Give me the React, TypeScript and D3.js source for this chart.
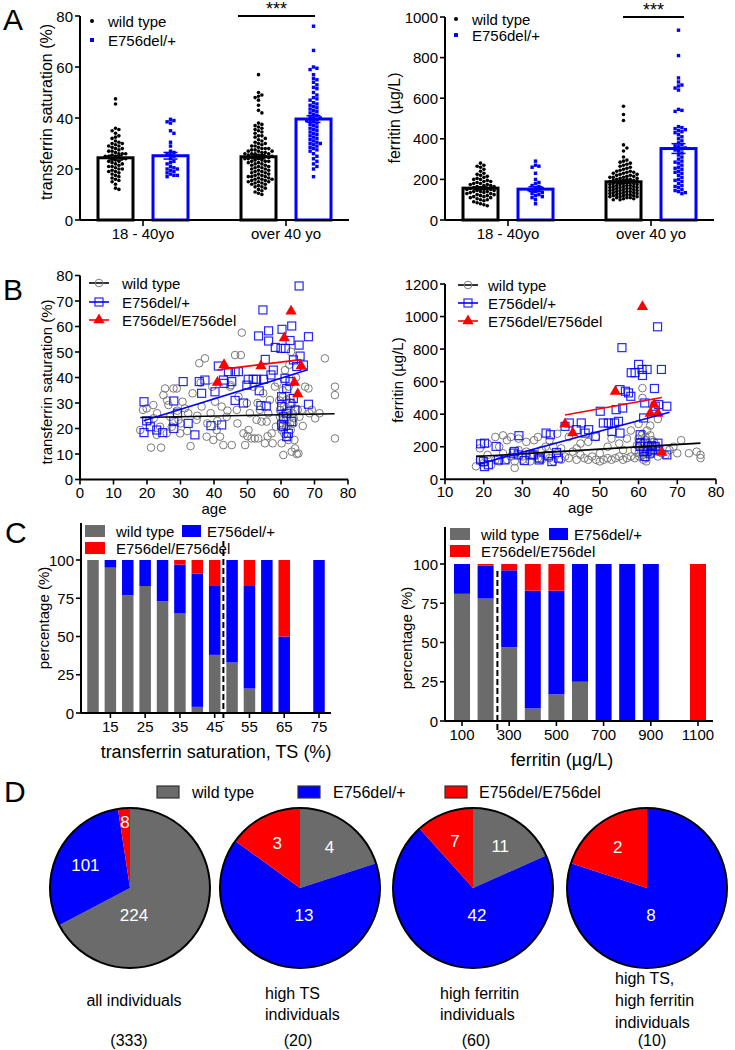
import React from 'react';
import * as d3 from 'd3';

const FONT = '"Liberation Sans", Arial, Helvetica, sans-serif';
const GRAY = '#6b6b6b';
const BLUE = '#0000ff';
const RED = '#ff0000';
const CIRCLE_GRAY = '#7a7a7a';

const GENOTYPES = ['wild type', 'E756del/+', 'E756del/E756del'];
const AGE_GROUPS = ['18 - 40yo', 'over 40 yo'];

// ---------- Panel A : transferrin saturation (%) ----------
const tsWtYoung = [47.5, 45.5, 36, 35.5, 35, 34, 33, 32.5, 32, 31, 30.5, 30, 30, 29.5, 29, 29, 28.5, 28, 28, 27.5, 27, 27, 26.5, 26, 26, 26, 25.5, 25, 25, 25, 24.5, 24, 24, 24, 23.5, 23, 23, 22.5, 22, 22, 21.5, 21, 21, 20.5, 20, 20, 19.5, 19, 19, 18.5, 18, 17.5, 17, 16.5, 16, 15.5, 15, 14, 12.5, 12];
const tsHetYoung = [39.5, 39, 38.5, 38, 35, 34, 30.5, 29, 27, 26.5, 26, 25.5, 25, 24, 23, 22.5, 22, 21, 20.5, 20, 20, 19.5, 19, 18.5, 18, 17.5, 17.5, 17];
const tsWtOld = [57, 50, 49, 48.5, 48, 47, 45, 43, 42, 38, 37.5, 37, 36.5, 36, 35.5, 35, 34.5, 34, 33, 33, 32.5, 32, 31.5, 31, 30.5, 30, 30, 29.5, 29, 29, 28.5, 28, 28, 28, 27.5, 27.5, 27, 27, 27, 26.5, 26.5, 26, 26, 26, 26, 25.5, 25.5, 25, 25, 25, 25, 24.5, 24.5, 24, 24, 24, 23.5, 23.5, 23, 23, 23, 22.5, 22.5, 22, 22, 21.5, 21.5, 21, 21, 20.5, 20.5, 20, 20, 19.5, 19.5, 19, 19, 18.5, 18.5, 18, 18, 17.5, 17.5, 17, 17, 17, 16.5, 16.5, 16, 16, 16, 15.5, 15.5, 15, 15, 15, 14.5, 14.5, 14, 14, 13.5, 13, 13, 12.5, 12, 11.5, 11, 10.5, 10];
const tsHetOld = [76, 66.5, 60, 59.5, 59, 57, 55.5, 55, 54, 53, 52, 51.5, 50, 49, 48, 47.5, 47, 46, 45.5, 45, 44.5, 44, 43.5, 43, 42.5, 42, 41.5, 41, 40.5, 40, 40, 39.5, 39, 39, 38.5, 38, 37.5, 37, 36.5, 36, 35.5, 35, 34.5, 34, 33.5, 33, 32.5, 32, 31.5, 31, 30.5, 30, 30, 29.5, 29, 28.5, 28, 27.5, 27, 26, 25, 24, 23, 22, 21, 20, 17];
const tsBarMeans = [24.4, 25.2, 24.8, 39.6];
const tsBarSems = [0.9, 1.3, 0.8, 1.3];

// ---------- Panel A : ferritin (µg/L) ----------
const ferWtYoung = [280, 270, 265, 260, 250, 240, 230, 225, 220, 215, 210, 205, 200, 200, 195, 190, 190, 185, 180, 180, 175, 175, 170, 170, 165, 165, 160, 160, 155, 155, 150, 150, 150, 145, 145, 140, 140, 140, 135, 135, 130, 130, 125, 125, 120, 120, 115, 115, 110, 110, 105, 100, 100, 95, 90, 85, 80, 75, 70];
const ferHetYoung = [290, 270, 265, 260, 230, 200, 185, 180, 170, 165, 160, 155, 150, 150, 145, 140, 135, 130, 125, 120, 115, 110, 100, 80];
const ferWtOld = [560, 520, 490, 370, 355, 340, 310, 295, 290, 285, 280, 275, 270, 265, 260, 255, 250, 245, 240, 240, 235, 235, 230, 230, 225, 225, 220, 220, 215, 215, 210, 210, 210, 205, 205, 200, 200, 200, 195, 195, 195, 190, 190, 190, 185, 185, 185, 180, 180, 180, 175, 175, 175, 170, 170, 170, 165, 165, 165, 160, 160, 160, 155, 155, 155, 150, 150, 150, 145, 145, 145, 140, 140, 140, 135, 135, 135, 130, 130, 130, 125, 125, 125, 120, 120, 120, 115, 115, 115, 110, 110, 110, 105, 105, 100, 100];
const ferHetOld = [935, 810, 700, 680, 665, 660, 650, 640, 545, 540, 535, 460, 455, 450, 445, 440, 435, 430, 420, 410, 400, 390, 380, 370, 365, 360, 355, 350, 345, 340, 330, 320, 310, 300, 290, 285, 280, 270, 260, 255, 250, 240, 235, 230, 220, 210, 200, 195, 190, 180, 170, 165, 160, 150, 145, 140, 135, 130];
const ferBarMeans = [157, 152, 188, 352];
const ferBarSems = [6, 12, 7, 24];

// ---------- Panel B : age vs TS ----------
const bTsWt: [number, number][] = [[18, 19.4], [18.8, 27.3], [19.9, 27.9], [21.2, 12.5], [21.9, 29.2], [22.9, 17.5], [23.9, 20.7], [24.2, 12.5], [24.9, 33.1], [25.4, 35.7], [25.9, 18.1], [26.4, 29.2], [26.9, 24.6], [27.4, 20.7], [27.9, 35.7], [28.9, 35.7], [29.4, 23.4], [29.9, 18.1], [30.6, 30.5], [31.3, 27.9], [32.3, 26], [33, 13.1], [33.6, 33.8], [34.8, 23.4], [35.6, 45.6], [36.3, 28.6], [37.3, 47.5], [37.8, 16.8], [39, 26], [39.5, 36.4], [39.8, 15.5], [40.3, 30.5], [40.8, 19.4], [41.8, 16.8], [42.3, 28.6], [42.8, 13.5], [43.8, 24.6], [44.8, 36.4], [45.3, 13.5], [46.3, 48.8], [46.8, 27.3], [47.3, 32.5], [48, 48.8], [48.3, 57.6], [48.8, 18.1], [49.3, 13.5], [49.8, 29.9], [50.3, 19.4], [50.7, 26], [51.2, 16.1], [51.7, 36.4], [52.2, 16.1], [52.7, 23.4], [53.2, 16.1], [53.7, 27.3], [54.2, 22.7], [54.7, 33.8], [55.2, 14.2], [55.7, 22.7], [56.2, 26], [56.7, 31.2], [57.2, 18.1], [57.5, 14.2], [58.2, 36.4], [58.5, 20.7], [59.7, 27.3], [59.7, 24.6], [59.9, 22], [60, 29.9], [60.2, 19.4], [60.2, 14.2], [60.5, 32.5], [60.7, 23.4], [60.7, 9.6], [60.9, 28.6], [61.2, 26], [61.2, 42.9], [61.5, 20.7], [61.7, 16.8], [61.7, 31.2], [61.9, 24.6], [62.2, 15.5], [62.3, 36.4], [62.5, 27.3], [62.7, 22], [62.9, 19.4], [63, 50.1], [63.2, 10.9], [63.3, 29.9], [63.5, 26], [63.7, 22], [64, 15.5], [64.2, 12.2], [64.7, 10], [65, 27.3], [65.2, 10.2], [65.5, 24.6], [66.2, 27.3], [67.2, 36.4], [68.2, 35.7], [69.2, 27.3], [70.2, 24], [71.5, 26], [73.1, 47.5], [76.1, 36.4], [76.1, 33.1], [76.1, 16.1], [20.5, 23], [23, 26], [26, 31], [30, 22], [32, 19], [35, 25], [38, 22], [41, 23], [44, 27], [47, 22], [50, 17], [53, 30], [56, 17], [59, 38], [60.5, 35], [61.5, 24], [62, 21], [60, 26], [61, 18], [62.8, 32], [63.8, 24], [59.5, 31], [64.5, 40], [62.5, 45], [66.5, 21], [68.5, 26], [45, 37], [36, 38], [29, 27], [22, 24]];
const bTsHet: [number, number][] = [[19.1, 30.5], [19.1, 18.4], [19.9, 23], [21, 20.7], [22.9, 19.4], [24.7, 18.4], [28, 30.8], [28, 22.7], [28, 20], [30.8, 38.4], [29.1, 26], [32.3, 22], [34.3, 17.5], [35.6, 38.4], [36.3, 33.8], [37.3, 39], [39.1, 21.1], [40.3, 34.4], [41.3, 44.5], [42.3, 21.4], [42.8, 39], [43, 37.7], [44.3, 42.3], [46.3, 42.3], [47.3, 42.3], [45.3, 38.4], [46.3, 31], [48.8, 30], [49.8, 37], [50.2, 39.3], [51.7, 39.3], [52.7, 39.3], [53.5, 34.8], [53.3, 56.3], [54.6, 66.5], [54.8, 39.3], [55.3, 47.1], [55.6, 28.8], [56.3, 58.3], [56.3, 54.3], [57.7, 42.9], [58.3, 51.8], [60, 51.4], [60.3, 58.9], [61.3, 51.4], [62.7, 54.5], [63.2, 60.2], [63.7, 46.9], [64.7, 44.3], [65.4, 75.9], [65.4, 52.7], [65.7, 48.4], [66.7, 44.9], [68.2, 56], [68.2, 29.5], [60.2, 32.5], [60.2, 28.6], [60.7, 24.6], [60.2, 21.4], [61.7, 35.7], [61.7, 26], [62.2, 18.1], [61.7, 16.8], [62.7, 29.9], [61.2, 39.7], [62.7, 38.4], [63.2, 22.7], [63.7, 31.8], [64.2, 27.3], [60.7, 20.7], [54, 29], [57, 41]];
const bTsHom: [number, number][] = [[41, 38], [43, 45], [54, 44.5], [61, 55.5], [63, 66], [64, 38], [65, 33.5], [66, 44.5]];
const bTsFitWt: [number, number][] = [[18, 24.3], [76, 25.8]];
const bTsFitHet: [number, number][] = [[19, 23], [68, 43]];
const bTsFitHom: [number, number][] = [[41, 43], [66, 47]];

// ---------- Panel B : age vs ferritin ----------
const bFerWt: [number, number][] = [[18, 80], [19, 120], [19, 190], [20, 100], [21, 150], [22, 90], [23, 260], [23, 120], [24, 110], [25, 160], [25, 270], [26, 120], [26, 240], [27, 140], [27, 260], [28, 70], [28, 110], [29, 180], [29, 250], [30, 120], [30, 140], [31, 170], [31, 230], [32, 110], [33, 150], [33, 240], [34, 130], [34, 260], [35, 180], [35, 120], [36, 150], [37, 130], [37, 240], [38, 200], [38, 110], [39, 160], [39, 280], [40, 120], [40, 190], [41, 140], [42, 130], [42, 260], [43, 170], [44, 120], [45, 220], [45, 150], [46, 130], [47, 230], [47, 120], [48, 140], [49, 120], [49, 260], [50, 110], [50, 160], [51, 120], [52, 130], [52, 200], [53, 120], [53, 250], [54, 130], [55, 140], [55, 220], [56, 120], [57, 130], [57, 250], [58, 140], [58, 300], [59, 180], [59, 130], [60, 200], [60, 250], [60, 160], [60, 340], [61, 220], [61, 150], [61, 280], [61, 560], [61, 500], [62, 180], [62, 240], [62, 130], [62, 110], [63, 200], [63, 330], [63, 150], [63, 270], [64, 170], [64, 230], [64, 430], [65, 190], [65, 140], [65, 370], [66, 160], [67, 150], [68, 180], [70, 160], [71, 240], [73, 160], [76, 150], [76, 130], [75, 170], [69, 200], [56, 180], [44, 190], [36, 200], [24, 200], [21, 220], [60.5, 230], [61.5, 190], [62.5, 210], [60.2, 140], [61.8, 260], [62.8, 170], [59.6, 210], [63.5, 240], [64.5, 200], [61.2, 120], [62.2, 300], [60.8, 270]];
const bFerHet: [number, number][] = [[19.2, 218], [19.2, 119], [20.2, 222], [20.2, 78], [23.2, 202], [23.8, 119], [27.9, 171], [29.1, 268], [28.9, 150], [30.5, 115], [32, 150], [34.3, 119], [36.1, 284], [37.2, 274], [37.6, 109], [39.3, 130], [41, 325], [42.1, 346], [43.9, 305], [45.2, 346], [46.2, 284], [47.1, 305], [48.8, 264], [50.1, 418], [50.9, 346], [52.2, 346], [53.1, 294], [53.8, 346], [54.2, 428], [54.8, 356], [55.2, 284], [55.2, 551], [55.7, 809], [55.9, 438], [56.6, 541], [57.4, 531], [58, 510], [58.1, 655], [59.1, 655], [60, 706], [60.4, 222], [60.9, 675], [61, 638], [61.3, 377], [61.6, 469], [62.2, 675], [62.2, 171], [63.4, 206], [64.1, 558], [64.3, 449], [64.9, 937], [65.2, 459], [65.9, 675], [67.3, 449], [67.3, 150], [60.4, 274], [60.4, 202], [61.3, 171], [61.7, 222], [62.4, 202], [63, 161], [63.6, 181], [64.3, 202], [65, 222], [65.2, 181], [61.6, 140], [19.9, 109], [21.2, 89], [25.5, 119], [27.7, 161], [32.8, 150], [34.4, 130], [36.7, 144], [38.8, 165]];
const bFerHom: [number, number][] = [[41, 340], [43, 285], [54, 540], [61, 1060], [63, 405], [64, 460], [65, 405], [66, 165]];
const bFerFitWt: [number, number][] = [[18, 140], [76, 222]];
const bFerFitHet: [number, number][] = [[19, 95], [68, 412]];
const bFerFitHom: [number, number][] = [[41, 395], [66, 503]];

// ---------- Panel C : genotype % by bin ----------
const tsBins = [10, 15, 20, 25, 30, 35, 40, 45, 50, 55, 60, 65, 70, 75];
const tsPctWt = [100, 95, 77, 83, 73, 65, 4, 38, 33, 16, 0, 0, 0, 0];
const tsPctHet = [0, 5, 23, 17, 27, 32, 87, 45, 67, 67, 100, 50, 0, 100];
const tsPctHom = [0, 0, 0, 0, 0, 3, 9, 17, 0, 17, 0, 50, 0, 0];
const tsBinTicks = [15, 25, 35, 45, 55, 65, 75];
const tsCutoff = 47.5;

const ferBins = [100, 200, 300, 400, 500, 600, 700, 800, 900, 1000, 1100];
const ferPctWt = [81, 78, 47, 8, 17, 25, 0, 0, 0, 0, 0];
const ferPctHet = [19, 21, 49, 75, 66, 75, 100, 100, 100, 0, 0];
const ferPctHom = [0, 1, 4, 17, 17, 0, 0, 0, 0, 0, 100];
const ferBinTicks = [100, 300, 500, 700, 900, 1100];
const ferCutoff = 250;

// ---------- Panel D : pies ----------
const pieWt = [224, 4, 11, 0];
const pieHet = [101, 13, 42, 8];
const pieHom = [8, 3, 7, 2];
const pieCaptions = [['all individuals'], ['high TS', 'individuals'], ['high ferritin', 'individuals'], ['high TS,', 'high ferritin', 'individuals']];
const pieTotals = ['(333)', '(20)', '(60)', '(10)'];

// ---------- helpers ----------
function swarm(values: number[], y: (v: number) => number, d: number, maxHalf: number) {
  const pts = values.map((v) => ({ v, py: y(v), px: 0 }));
  const sorted = [...pts].sort((a, b) => a.py - b.py);
  const placed: { px: number; py: number }[] = [];
  const cands = [0];
  for (let k = 1; k * d <= maxHalf; k++) cands.push(k * d, -k * d);
  for (const p of sorted) {
    let best = 0;
    let found = false;
    const near = placed.filter((q) => Math.abs(q.py - p.py) < d);
    for (const c of cands) {
      if (near.every((q) => (q.px - c) ** 2 + (q.py - p.py) ** 2 >= d * d * 0.95)) {
        best = c;
        found = true;
        break;
      }
    }
    if (!found) {
      let bd = -1;
      for (const c of cands) {
        const m = Math.min(...near.map((q) => (q.px - c) ** 2 + (q.py - p.py) ** 2));
        if (m > bd) { bd = m; best = c; }
      }
    }
    p.px = best;
    placed.push(p);
  }
  return pts;
}

const txt = (size: number) => ({ fontFamily: FONT, fontSize: size, fill: '#000' });

function YAxis({ scale, x, ticks, fmt, size = 15, top }: any) {
  const r = scale.range();
  return (
    <g>
      <line x1={x} x2={x} y1={top ?? Math.min(...r)} y2={Math.max(...r)} stroke="#000" strokeWidth={2} />
      {ticks.map((t: number) => (
        <g key={t}>
          <line x1={x - 5} x2={x} y1={scale(t)} y2={scale(t)} stroke="#000" strokeWidth={1.6} />
          <text x={x - 7} y={scale(t)} textAnchor="end" dominantBaseline="central" style={txt(size)}>{fmt ? fmt(t) : t}</text>
        </g>
      ))}
    </g>
  );
}

function PanelA({ vals, means, sems, yMax, yTicks, left, right, top, bottom, label, labelX, labelY, legendX, legendY, sig }: any) {
  const y = d3.scaleLinear().domain([0, yMax]).range([bottom, top]);
  const gx = d3.scalePoint().domain(AGE_GROUPS).range([left + 63, left + 206]);
  const inner = d3.scaleBand().domain(GENOTYPES.slice(0, 2)).range([-55, 55]);
  const bw = 35;
  const cols = ['#000', BLUE];
  const items: any[] = [];
  AGE_GROUPS.forEach((g, gi) => {
    GENOTYPES.slice(0, 2).forEach((gt, ti) => {
      const idx = gi * 2 + ti;
      const cx = (gx(g) as number) + (inner(gt) as number) + inner.bandwidth() / 2;
      items.push({ idx, cx, col: cols[ti], vals: vals[idx], mean: means[idx], sem: sems[idx], het: ti === 1 });
    });
  });
  return (
    <g>
      {items.map((it) => (
        <g key={it.idx}>
          <rect x={it.cx - bw / 2} y={y(it.mean)} width={bw} height={bottom - y(it.mean)} fill="none" stroke={it.col} strokeWidth={3} />
          {swarm(it.vals, y, 3.4, 15).map((p, i) =>
            it.het ? (
              <rect key={i} x={it.cx + p.px - 1.7} y={p.py - 1.7} width={3.4} height={3.4} fill={BLUE} />
            ) : (
              <circle key={i} cx={it.cx + p.px} cy={p.py} r={1.8} fill="#000" />
            )
          )}
          <line x1={it.cx} x2={it.cx} y1={y(it.mean - it.sem)} y2={y(it.mean + it.sem)} stroke={it.col} strokeWidth={1.5} />
          <line x1={it.cx - 7} x2={it.cx + 7} y1={y(it.mean - it.sem)} y2={y(it.mean - it.sem)} stroke={it.col} strokeWidth={1.5} />
          <line x1={it.cx - 7} x2={it.cx + 7} y1={y(it.mean + it.sem)} y2={y(it.mean + it.sem)} stroke={it.col} strokeWidth={1.5} />
        </g>
      ))}
      <YAxis scale={y} x={left} ticks={yTicks} />
      <line x1={left} x2={right} y1={bottom} y2={bottom} stroke="#000" strokeWidth={2} />
      {AGE_GROUPS.map((g) => (
        <g key={g}>
          <line x1={gx(g)} x2={gx(g)} y1={bottom} y2={bottom + 6} stroke="#000" strokeWidth={1.6} />
          <text x={gx(g)} y={bottom + 19} textAnchor="middle" style={txt(15)}>{g}</text>
        </g>
      ))}
      <text transform={`translate(${labelX},${labelY}) rotate(-90)`} textAnchor="middle" dominantBaseline="central" style={txt(16)}>{label}</text>
      <circle cx={legendX} cy={legendY[0]} r={2} fill="#000" />
      <text x={legendX + 16} y={legendY[0]} dominantBaseline="central" style={txt(15)}>wild type</text>
      <rect x={legendX - 2} y={legendY[1] - 2} width={4} height={4} fill={BLUE} />
      <text x={legendX + 16} y={legendY[1]} dominantBaseline="central" style={txt(15)}>E756del/+</text>
      <line x1={sig[0]} x2={sig[1]} y1={sig[2]} y2={sig[2]} stroke="#000" strokeWidth={2} />
      <text x={(sig[0] + sig[1]) / 2} y={sig[2] - 1} textAnchor="middle" style={txt(18)}>***</text>
    </g>
  );
}

function Marker({ kind, x, y }: any) {
  if (kind === 0) return <circle cx={x} cy={y} r={3.8} fill="none" stroke={CIRCLE_GRAY} strokeWidth={1} />;
  if (kind === 1) return <rect x={x - 4} y={y - 4} width={8} height={8} fill="none" stroke={BLUE} strokeWidth={1.2} opacity={0.85} />;
  const p = d3.symbol().type(d3.symbolTriangle).size(55)();
  return <path d={p as string} transform={`translate(${x},${y})`} fill={RED} />;
}

function PanelB({ xDom, xTicks, yDom, yTicks, left, right, top, bottom, wt, het, hom, fits, label, labelX, labelY, legend }: any) {
  const x = d3.scaleLinear().domain(xDom).range([left, right]);
  const y = d3.scaleLinear().domain(yDom).range([bottom, top]);
  const line = d3.line<[number, number]>().x((d) => x(d[0])).y((d) => y(d[1]));
  const cols = ['#000', BLUE, RED];
  return (
    <g>
      {wt.map((d: any, i: number) => <Marker key={'w' + i} kind={0} x={x(d[0])} y={y(d[1])} />)}
      {het.map((d: any, i: number) => <Marker key={'h' + i} kind={1} x={x(d[0])} y={y(d[1])} />)}
      {hom.map((d: any, i: number) => <Marker key={'o' + i} kind={2} x={x(d[0])} y={y(d[1])} />)}
      {fits.map((f: any, i: number) => <path key={i} d={line(f) as string} stroke={cols[i]} strokeWidth={1.6} fill="none" />)}
      <YAxis scale={y} x={left} ticks={yTicks} size={15} />
      <line x1={left} x2={right} y1={bottom} y2={bottom} stroke="#000" strokeWidth={2} />
      {xTicks.map((t: number) => (
        <g key={t}>
          <line x1={x(t)} x2={x(t)} y1={bottom} y2={bottom + 5} stroke="#000" strokeWidth={1.6} />
          <text x={x(t)} y={bottom + 18} textAnchor="middle" style={txt(15)}>{t}</text>
        </g>
      ))}
      <text x={(left + right) / 2} y={bottom + 34} textAnchor="middle" style={txt(15)}>age</text>
      <text transform={`translate(${labelX},${labelY}) rotate(-90)`} textAnchor="middle" dominantBaseline="central" style={txt(15)}>{label}</text>
      {GENOTYPES.map((g, i) => (
        <g key={g}>
          <line x1={legend.x} x2={legend.x + 20} y1={legend.y[i]} y2={legend.y[i]} stroke={cols[i]} strokeWidth={1.6} />
          <Marker kind={i} x={legend.x + 10} y={legend.y[i]} />
          <text x={legend.x + legend.tx} y={legend.y[i]} dominantBaseline="central" style={txt(15)}>{i === 0 ? ' wild type' : g}</text>
        </g>
      ))}
    </g>
  );
}

function PanelC({ bins, wtP, hetP, homP, xDom, xRange, axisLeft, axisRight, top, bottom, axisTop, barW, ticks, cutoff, xlabel, xlabelX, labelX, labelY, legend }: any) {
  const x = d3.scaleLinear().domain(xDom).range(xRange);
  const y = d3.scaleLinear().domain([0, 100]).range([bottom, top]);
  const rows = bins.map((b: number, i: number) => ({ bin: b, wt: wtP[i], het: hetP[i], hom: homP[i] }));
  const stack = d3.stack<any>().keys(['wt', 'het', 'hom'])(rows);
  const cols = [GRAY, BLUE, RED];
  return (
    <g>
      {stack.map((s, si) => (
        <g key={si} fill={cols[si]}>
          {s.map((d: any, i: number) => (d[1] - d[0] > 0 ? (
            <rect key={i} x={x(d.data.bin) - barW / 2} y={y(d[1])} width={barW} height={y(d[0]) - y(d[1])} />
          ) : null))}
        </g>
      ))}
      <YAxis scale={y} x={axisLeft} ticks={[0, 25, 50, 75, 100]} top={axisTop} size={15} />
      <line x1={axisLeft} x2={axisRight} y1={bottom} y2={bottom} stroke="#000" strokeWidth={2} />
      {ticks.map((t: number) => (
        <g key={t}>
          <line x1={x(t)} x2={x(t)} y1={bottom} y2={bottom + 5} stroke="#000" strokeWidth={1.6} />
          <text x={x(t)} y={bottom + 19} textAnchor="middle" style={txt(15)}>{t}</text>
        </g>
      ))}
      <line x1={x(cutoff)} x2={x(cutoff)} y1={legend.dashTop} y2={bottom + 9} stroke="#000" strokeWidth={2} strokeDasharray="6,3" />
      <text x={xlabelX} y={bottom + 45} textAnchor="middle" style={txt(18)}>{xlabel}</text>
      <text transform={`translate(${labelX},${labelY}) rotate(-90)`} textAnchor="middle" dominantBaseline="central" style={txt(15)}>percentage (%)</text>
      <rect x={legend.x} y={legend.y} width={20} height={12} fill={GRAY} />
      <text x={legend.x + 31} y={legend.y + 6} dominantBaseline="central" style={txt(15)}>wild type</text>
      <rect x={legend.x2} y={legend.y} width={19} height={12} fill={BLUE} />
      <text x={legend.x2 + 25} y={legend.y + 6} dominantBaseline="central" style={txt(15)}>E756del/+</text>
      <rect x={legend.x} y={legend.y + 17} width={20} height={12} fill={RED} />
      <text x={legend.x + 31} y={legend.y + 23} dominantBaseline="central" style={txt(15)}>E756del/E756del</text>
    </g>
  );
}

function PanelD() {
  const centers = d3.scalePoint().domain(['0', '1', '2', '3']).range([130, 647]);
  const cxs = [130, 300, 473, 647];
  const cy = 888;
  const R = 80;
  const arc = d3.arc<any>().innerRadius(0).outerRadius(R);
  const pie = d3.pie<number>().sort(null).value((d) => d);
  const cols = [GRAY, BLUE, RED];
  return (
    <g>
      {cxs.map((cx, pi) => {
        const counts = [pieWt[pi], pieHet[pi], pieHom[pi]];
        const total = d3.sum(counts);
        const arcs = pie(counts);
        return (
          <g key={pi} transform={`translate(${cx},${cy})`}>
            {arcs.map((a, i) => (a.value > 0 ? <path key={i} d={arc(a) as string} fill={cols[i]} /> : null))}
            {arcs.map((a, i) => {
              if (a.value <= 0) return null;
              const frac = a.value / total;
              let lx: number, ly: number;
              if (frac > 0.5) {
                lx = 4; ly = 27;
              } else {
                const rr = frac < 0.05 ? 66 : 50;
                const m = (a.startAngle + a.endAngle) / 2;
                lx = Math.sin(m) * rr; ly = -Math.cos(m) * rr;
              }
              return <text key={'t' + i} x={lx} y={ly} textAnchor="middle" dominantBaseline="central" style={{ fontFamily: FONT, fontSize: 17, fill: '#fff' }}>{a.value}</text>;
            })}
            <circle r={R} fill="none" stroke="#000" strokeWidth={2} />
          </g>
        );
      })}
      {[[157, GRAY, 'wild type', 192], [298, BLUE, 'E756del/+', 333], [445, RED, 'E756del/E756del', 479]].map(([x, c, t, tx]: any) => (
        <g key={t}>
          <rect x={x} y={786} width={22} height={12} fill={c} stroke="#333" strokeWidth={1.2} />
          <text x={tx} y={792} dominantBaseline="central" style={txt(16)}>{t}</text>
        </g>
      ))}
      <text x={134} y={1006} textAnchor="middle" style={txt(16)}>{pieCaptions[0][0]}</text>
      {[1, 2].map((i) => (
        <g key={i}>
          {pieCaptions[i].map((s, j) => <text key={j} x={[0, 265, 440][i]} y={999 + j * 21} style={txt(16)}>{s}</text>)}
        </g>
      ))}
      {pieCaptions[3].map((s, j) => <text key={j} x={615} y={984 + j * 22} style={txt(16)}>{s}</text>)}
      {pieTotals.map((s, i) => <text key={i} x={[129, 298, 476, 652][i]} y={1046} textAnchor="middle" style={txt(16)}>{s}</text>)}
    </g>
  );
}

export default function App() {
  const letter = { fontFamily: FONT, fontSize: 30, fill: '#000', fontWeight: 300 } as any;
  return (
    <div style={{ position: 'absolute', left: 0, top: 0 }}>
      <svg width={735} height={1050} viewBox="0 0 735 1050" style={{ display: 'block', background: '#fff' }}>
        <rect width={735} height={1050} fill="#fff" />
        <text x={3} y={30} style={letter}>A</text>
        <text x={3} y={300} style={letter}>B</text>
        <text x={5} y={543} style={letter}>C</text>
        <text x={4} y={802} style={letter}>D</text>

        <PanelA vals={[tsWtYoung, tsHetYoung, tsWtOld, tsHetOld]} means={tsBarMeans} sems={tsBarSems} yMax={80} yTicks={[0, 20, 40, 60, 80]}
          left={80} right={349} top={16} bottom={220} label="transferrin saturation (%)" labelX={46} labelY={112}
          legendX={92} legendY={[21, 40]} sig={[238, 315, 16]} />
        <PanelA vals={[ferWtYoung, ferHetYoung, ferWtOld, ferHetOld]} means={ferBarMeans} sems={ferBarSems} yMax={1000} yTicks={[0, 200, 400, 600, 800, 1000]}
          left={445} right={714} top={17} bottom={220} label="ferritin (µg/L)" labelX={394} labelY={118}
          legendX={456} legendY={[19, 35]} sig={[623, 684, 17]} />

        <PanelB xDom={[0, 80]} xTicks={[0, 10, 20, 30, 40, 50, 60, 70, 80]} yDom={[0, 80]} yTicks={[0, 10, 20, 30, 40, 50, 60, 70, 80]}
          left={80} right={348} top={275.5} bottom={479.5} wt={bTsWt} het={bTsHet} hom={bTsHom} fits={[bTsFitWt, bTsFitHet, bTsFitHom]}
          label="transferrin saturation (%)" labelX={46} labelY={382} legend={{ x: 89, tx: 33, y: [283, 302, 320] }} />
        <PanelB xDom={[10, 80]} xTicks={[10, 20, 30, 40, 50, 60, 70, 80]} yDom={[0, 1200]} yTicks={[0, 200, 400, 600, 800, 1000, 1200]}
          left={445} right={716} top={284} bottom={479.3} wt={bFerWt} het={bFerHet} hom={bFerHom} fits={[bFerFitWt, bFerFitHet, bFerFitHom]}
          label="ferritin (µg/L)" labelX={397} labelY={380} legend={{ x: 458, tx: 30, y: [285, 303, 321] }} />

        <PanelC bins={tsBins} wtP={tsPctWt} hetP={tsPctHet} homP={tsPctHom} xDom={[10, 75]} xRange={[93, 319]} axisLeft={81} axisRight={331}
          top={560} bottom={713} axisTop={523} barW={11.5} ticks={tsBinTicks} cutoff={tsCutoff}
          xlabel="transferrin saturation, TS (%)" xlabelX={216} labelX={43} labelY={618}
          legend={{ x: 85, x2: 182, y: 525, dashTop: 541 }} />
        <PanelC bins={ferBins} wtP={ferPctWt} hetP={ferPctHet} homP={ferPctHom} xDom={[100, 1100]} xRange={[462, 698]} axisLeft={445} axisRight={713}
          top={564} bottom={721} axisTop={527} barW={16} ticks={ferBinTicks} cutoff={ferCutoff}
          xlabel="ferritin (µg/L)" xlabelX={562} labelX={406} labelY={638}
          legend={{ x: 450, x2: 549, y: 528, dashTop: 571 }} />

        <PanelD />
      </svg>
    </div>
  );
}
